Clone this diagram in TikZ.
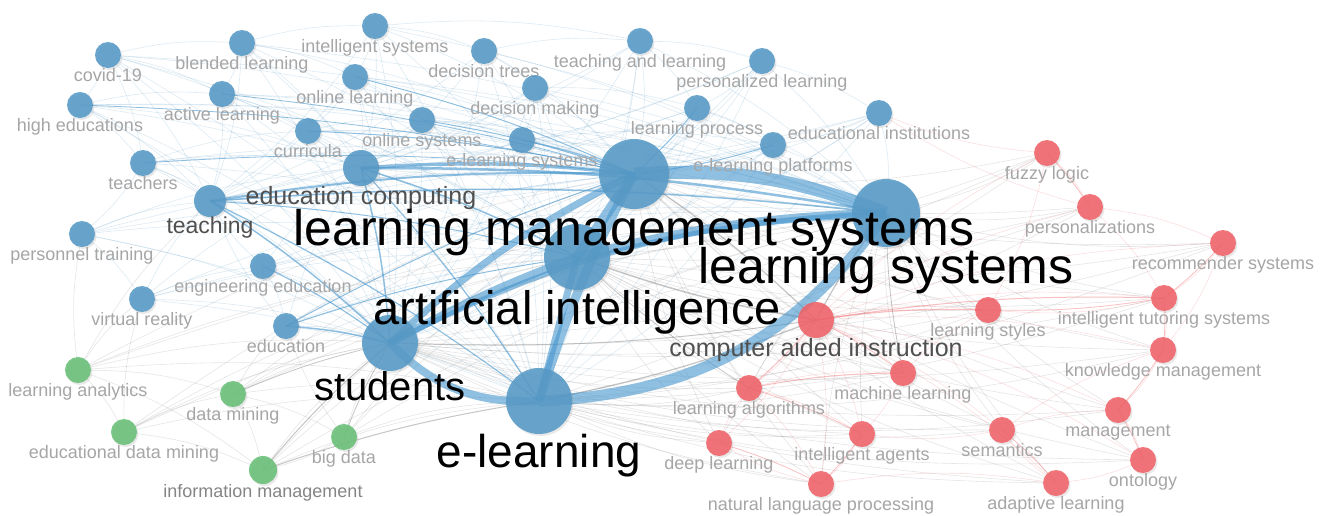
\documentclass[tikz,border=0pt]{standalone}
\usepackage{fontspec}
\setmainfont{Liberation Sans}
\usetikzlibrary{shadows,backgrounds}

\definecolor{kwblue}{RGB}{86,153,198}
\definecolor{kwred}{RGB}{239,98,104}
\definecolor{kwgreen}{RGB}{104,191,118}
\definecolor{lblgray}{RGB}{166,166,166}
\definecolor{midgray}{RGB}{80,80,80}
\definecolor{bandblue}{RGB}{70,150,205}

\tikzset{
  kw/.style={circle, inner sep=0pt, minimum size=26pt, fill opacity=.88,
    drop shadow={shadow xshift=1.5pt, shadow yshift=-2pt, opacity=.18}},
  bluekw/.style={kw, fill=kwblue},
  redkw/.style={kw, fill=kwred},
  greenkw/.style={kw, fill=kwgreen},
  every label/.style={inner sep=0pt, text=lblgray, text opacity=1,
    font=\fontsize{18}{18}\selectfont, text height=13pt, text depth=4pt},
  midtxt/.style 2 args={text=midgray, font=\fontsize{#1}{#1}\selectfont, text height=#2},
  bigtxt/.style 2 args={text=black, font=\fontsize{#1}{#1}\selectfont, text height=#2},
  faint/.style={draw=#1, draw opacity=.2, line width=.6pt},
  band/.style={draw=bandblue, draw opacity=.6, line width=#1},
  grayband/.style={draw=gray, draw opacity=.45, line width=#1},
  redband/.style={draw=kwred, draw opacity=.4, line width=#1}
}

\begin{document}
\begin{tikzpicture}[x=1pt, y=-1pt]
    \useasboundingbox (0,0) rectangle (1328,515);

    \node[bluekw, label=below:covid-19] (covid) at (108,55) {};
    \node[bluekw, label=below:blended learning] (blended) at (242,43) {};
    \node[bluekw, label=below:intelligent systems] (intsys) at (375,26) {};
    \node[bluekw, label=below:decision trees] (dtrees) at (484,51) {};
    \node[bluekw, label=below:teaching and learning] (tandl) at (640,41) {};
    \node[bluekw, label=below:personalized learning] (perslearn) at (762,61) {};
    \node[bluekw, label=below:online learning] (onlearn) at (355,77) {};
    \node[bluekw, label=below:decision making] (decmaking) at (535,88) {};
    \node[bluekw, label=below:active learning] (active) at (222,94) {};
    \node[bluekw, label=below:high educations] (higher) at (80,105) {};
    \node[bluekw, label=below:learning process] (lproc) at (697,108) {};
    \node[bluekw, label=below:educational institutions] (eduinst) at (879,113) {};
    \node[bluekw, label=below:online systems] (onsys) at (422,120) {};
    \node[bluekw, label=below:curricula] (curricula) at (308,131) {};
    \node[bluekw, label=below:e-learning systems] (elsys) at (522,140) {};
    \node[bluekw, label=below:e-learning platforms] (elplat) at (773,145) {};
    \node[bluekw, label=below:teachers] (teachers) at (143,163) {};
    \node[bluekw, label=below:personnel training] (personnel) at (82,234) {};
    \node[bluekw, label=below:engineering education] (engedu) at (263,266) {};
    \node[bluekw, label=below:virtual reality] (vr) at (142,299) {};
    \node[bluekw, label=below:education] (education) at (286,326) {};
    \node[bluekw, minimum size=36pt, label distance=-3pt,
        label={[midtxt={25}{18pt}]below:education computing}] (educomp) at (361,168) {};
    \node[bluekw, minimum size=32pt,
        label={[midtxt={23}{16.5pt}]below:teaching}] (teaching) at (210,201) {};

    \node[greenkw, label=below:learning analytics] (analytics) at (78,370) {};
    \node[greenkw, label=below:data mining] (dmining) at (233,394) {};
    \node[greenkw, label=below:educational data mining] (edm) at (124,432) {};
    \node[greenkw, label=below:big data] (bigdata) at (344,437) {};
    \node[greenkw, minimum size=28pt,
        label={[text=midgray!70]below:information management}] (infomgmt) at (263,470) {};

    \node[redkw, label=below:fuzzy logic] (fuzzy) at (1047,153) {};
    \node[redkw, label=below:personalizations] (personal) at (1090,207) {};
    \node[redkw, label=below:recommender systems] (recsys) at (1223,243) {};
    \node[redkw, label=below:intelligent tutoring systems] (its) at (1164,298) {};
    \node[redkw, label=below:learning styles] (lstyles) at (988,310) {};
    \node[redkw, label=below:knowledge management] (kmgmt) at (1163,350) {};
    \node[redkw, label=below:machine learning] (mlearn) at (903,373) {};
    \node[redkw, label=below:learning algorithms] (lalgo) at (749,388) {};
    \node[redkw, label=below:management] (mgmt) at (1118,410) {};
    \node[redkw, label=below:semantics] (semantics) at (1002,430) {};
    \node[redkw, label=below:intelligent agents] (agents) at (862,434) {};
    \node[redkw, label=below:deep learning] (dlearn) at (719,443) {};
    \node[redkw, label=below:ontology] (ontology) at (1143,460) {};
    \node[redkw, label=below:natural language processing] (nlp) at (821,484) {};
    \node[redkw, label=below:adaptive learning] (adaptive) at (1056,483) {};
    \node[redkw, minimum size=36pt, label distance=-2pt,
        label={[midtxt={25}{18pt}]below:computer aided instruction}] (cai) at (816,320) {};

    \node[bluekw, minimum size=56pt, label distance=-6pt,
        label={[bigtxt={40}{29pt}]below:students}] (students) at (390,343) {};
    \node[bluekw, minimum size=66pt, label distance=-6pt,
        label={[bigtxt={46}{33pt}]below:e-learning}] (elearn) at (539,401) {};
    \node[bluekw, minimum size=66pt, label distance=-10pt,
        label={[bigtxt={47}{34pt}]below:artificial intelligence}] (ai) at (577,257) {};
    \node[bluekw, minimum size=68pt, label distance=-2pt,
        label={[bigtxt={50}{36pt}]below:learning systems}] (ls) at (886,213) {};
    \node[bluekw, minimum size=70pt, label distance=-8pt,
        label={[bigtxt={50}{36pt}]below:learning management systems}] (lms) at (634,174) {};

    \begin{scope}[on background layer]
        \fill[white] (0,0) rectangle (1328,515);
        \foreach \a in {covid,blended,intsys,dtrees,tandl,perslearn,onlearn,decmaking,active,
                        higher,lproc,eduinst,onsys,curricula,elsys,elplat,teachers,personnel,
                        engedu,vr,education}
            \foreach \b in {lms,ls,ai,elearn,students,educomp,teaching}
                \draw[faint=kwblue] (\a) to[bend left=8] (\b);
        \foreach \a/\b in {covid/blended,covid/higher,covid/teachers,covid/active,blended/intsys,
                           blended/active,blended/onlearn,intsys/onlearn,intsys/dtrees,
                           intsys/tandl,dtrees/tandl,dtrees/decmaking,tandl/perslearn,
                           tandl/lproc,perslearn/eduinst,perslearn/lproc,decmaking/lproc,
                           onlearn/curricula,onlearn/onsys,active/curricula,higher/teachers,
                           higher/active,teachers/personnel,personnel/vr,vr/engedu,
                           engedu/education,onsys/elsys,curricula/onsys,elsys/elplat,
                           lproc/elplat,eduinst/elplat,decmaking/elsys,teachers/curricula}
            \draw[faint=kwblue] (\a) to[bend left=8] (\b);
        \foreach \a in {fuzzy,personal,recsys,its,lstyles,kmgmt,mlearn,lalgo,mgmt,semantics,
                        agents,dlearn,ontology,nlp,adaptive}
            \foreach \b in {lms,ls,ai,elearn,students}
                \draw[faint=gray] (\a) to[bend left=8] (\b);
        \foreach \a in {fuzzy,personal,recsys,its,lstyles,kmgmt,mlearn,lalgo,mgmt,semantics,
                        agents,dlearn,ontology,nlp,adaptive}
            \draw[faint=kwred] (cai) to[bend left=8] (\a);
        \foreach \a/\b in {fuzzy/personal,personal/recsys,recsys/its,its/lstyles,its/kmgmt,
                           kmgmt/mgmt,mgmt/ontology,ontology/adaptive,adaptive/semantics,
                           semantics/agents,agents/nlp,nlp/dlearn,dlearn/lalgo,lalgo/mlearn,
                           mlearn/lstyles,fuzzy/lstyles,personal/its,semantics/mgmt,
                           mlearn/agents,lalgo/agents,lalgo/nlp,recsys/kmgmt,nlp/adaptive,
                           semantics/kmgmt,fuzzy/eduinst,personal/eduinst}
            \draw[faint=kwred] (\a) to[bend left=8] (\b);
        \foreach \a in {analytics,dmining,edm,bigdata,infomgmt}
            \foreach \b in {lms,ls,ai,elearn,students}
                \draw[faint=gray] (\a) to[bend left=8] (\b);
        \foreach \a/\b in {analytics/edm,analytics/dmining,edm/infomgmt,dmining/infomgmt,
                           bigdata/infomgmt,analytics/infomgmt,dmining/bigdata,edm/dmining,
                           analytics/vr,analytics/personnel,analytics/teaching,edm/vr,
                           dmining/education,bigdata/education}
            \draw[faint=gray] (\a) to[bend left=8] (\b);

        \foreach \a/\b/\w in {educomp/lms/3.5pt,educomp/ls/2.5pt,educomp/ai/1.5pt,
                              educomp/elearn/1.2pt,educomp/students/1.5pt,teaching/lms/2pt,
                              teaching/ls/1.5pt,teaching/students/1.5pt,teaching/elearn/1.2pt,
                              teaching/ai/1pt,engedu/students/1.2pt,education/students/1.5pt,
                              education/ai/1pt,education/lms/1pt,curricula/lms/1pt,
                              onsys/lms/1pt,elsys/lms/1.2pt,lproc/lms/1pt,elplat/lms/1pt,
                              onlearn/lms/1pt,higher/lms/.8pt,teachers/lms/.8pt,active/lms/.8pt}
            \draw[band=\w] (\a.center) to[bend left=5] (\b.center);
        \foreach \a/\b/\w in {cai/ai/1.5pt,cai/ls/1.2pt,lms/cai/1.2pt,cai/elearn/1.2pt,
                              cai/students/1pt,lalgo/ai/.8pt,infomgmt/students/1pt,
                              infomgmt/elearn/1pt,bigdata/students/.8pt,dmining/students/.8pt,
                              mlearn/ls/.8pt}
            \draw[grayband=\w] (\a.center) to[bend left=5] (\b.center);
        \foreach \a/\b/\w in {cai/lstyles/1.2pt,cai/its/1pt,cai/lalgo/1pt,cai/mlearn/.8pt,
                              lalgo/mlearn/1pt,lalgo/agents/.8pt,dlearn/nlp/.8pt,agents/nlp/.8pt,
                              its/lstyles/.8pt,its/kmgmt/.8pt,recsys/its/.8pt,fuzzy/personal/.8pt,
                              mgmt/ontology/.8pt,semantics/adaptive/.8pt,kmgmt/mgmt/.8pt}
            \draw[redband=\w] (\a.center) to[bend left=5] (\b.center);

        \draw[band=13pt] (lms.center) to[bend left=12] (ls.center);
        \draw[band=10pt] (ai.center) to (lms.center);
        \draw[band=9pt] (elearn.center) to[bend left=5] (lms.center);
        \draw[band=7pt] (elearn.center) to (ai.center);
        \draw[band=11pt] (elearn.center) to[bend right=26] (ls.center);
        \draw[band=8pt] (students.center) to[bend right=24] (elearn.center);
        \draw[band=7pt] (students.center) to[bend left=8] (lms.center);
        \draw[band=8pt] (students.center) to[bend left=4] (ai.center);
        \draw[band=9pt] (ai.center) to[bend left=6] (ls.center);
        \draw[band=5pt] (students.center) to[bend left=12] (ls.center);
    \end{scope}
\end{tikzpicture}
\end{document}
